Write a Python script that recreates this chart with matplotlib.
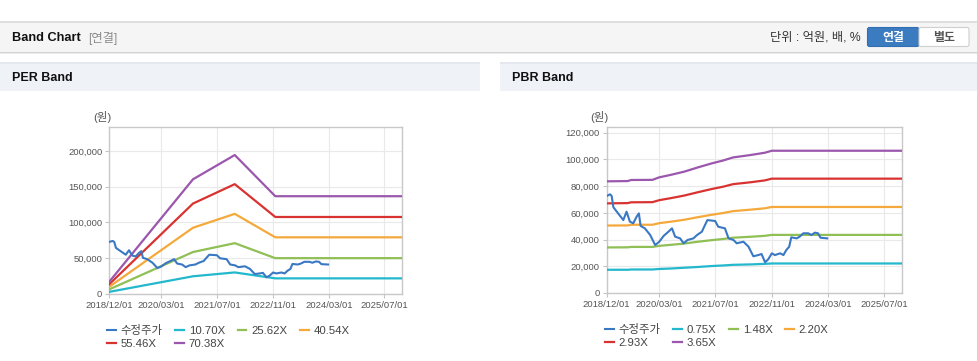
import matplotlib
matplotlib.use("Agg")
import matplotlib.pyplot as plt
import matplotlib.dates as mdates
from matplotlib.patches import Rectangle, FancyBboxPatch
from matplotlib.ticker import FuncFormatter, FixedLocator
import numpy as np

plt.rcParams['font.family'] = ['Liberation Sans', 'Noto Sans CJK KR', 'DejaVu Sans']

# ---------------- data ----------------
price_label = "수정주가"
price_dates = ["2018-12-01", "2018-12-30", "2019-01-13", "2019-01-28", "2019-03-10", "2019-04-24",
               "2019-05-22", "2019-06-20", "2019-07-19", "2019-08-17", "2019-09-06", "2019-09-21",
               "2019-10-28", "2019-12-13", "2020-01-25", "2020-03-01", "2020-04-07", "2020-05-19",
               "2020-06-19", "2020-07-16", "2020-08-28", "2020-09-28", "2020-11-01", "2020-12-22",
               "2021-01-22", "2021-03-05", "2021-04-01", "2021-04-22", "2021-06-28", "2021-07-25",
               "2021-09-21", "2021-10-22", "2021-12-04", "2022-01-01", "2022-02-28", "2022-04-13",
               "2022-05-25", "2022-07-07", "2022-08-04", "2022-09-04", "2022-10-01", "2022-11-01",
               "2022-11-28", "2023-01-13", "2023-02-10", "2023-03-07", "2023-04-01", "2023-04-19",
               "2023-06-04", "2023-07-01", "2023-08-01", "2023-09-13", "2023-10-10", "2023-11-10",
               "2023-12-07", "2023-12-28", "2024-02-24"]
price_values = [72600, 73900, 72600, 64200, 59600, 54600,
                60900, 53400, 52200, 57100, 59600, 50200,
                48400, 43400, 35900, 38400, 42700, 45900,
                48400, 42200, 40900, 37200, 39700, 40900,
                43400, 45900, 50900, 54600, 53900, 49600,
                48400, 40900, 39700, 37200, 38400, 34700,
                27500, 28400, 29200, 23000, 25200, 29700,
                28400, 29700, 28400, 32200, 34700, 41700,
                40900, 42200, 44700, 44700, 43400, 45200,
                44700, 41400, 40900]

per_labels = ["10.70X", "25.62X", "40.54X", "55.46X", "70.38X"]
per_dates = ["2018-12-01", "2020-12-01", "2021-12-01", "2022-11-20", "2025-12-01"]
per_1070 = [2600, 24400, 29800, 21500, 21500]
per_2562 = [6100, 58400, 70800, 49800, 49800]
per_4054 = [9700, 92400, 111900, 79000, 79000]
per_5546 = [13300, 126300, 153500, 107500, 107500]
per_7038 = [16800, 160300, 194300, 136600, 136600]

pbr_labels = ["0.75X", "1.48X", "2.20X", "2.93X", "3.65X"]
pbr_dates = ["2018-12-01", "2019-06-01", "2019-07-01", "2020-01-01", "2020-03-01", "2020-06-01",
             "2020-10-01", "2021-02-01", "2021-06-01", "2021-09-01", "2021-12-01", "2022-05-01",
             "2022-09-01", "2022-11-01", "2025-12-01"]
pbr_075 = [17400, 17400, 17600, 17600, 18000, 18300, 18900, 19500, 20200, 20600, 21100, 21400, 21800, 22100, 22100]
pbr_148 = [34100, 34200, 34500, 34500, 35300, 36000, 37000, 38400, 39600, 40400, 41400, 42100, 42800, 43500, 43500]
pbr_220 = [50500, 50600, 51100, 51100, 52300, 53300, 54800, 56800, 58600, 59800, 61300, 62400, 63400, 64400, 64400]
pbr_293 = [67100, 67300, 67900, 68000, 69500, 70900, 72900, 75500, 77900, 79500, 81500, 82900, 84300, 85600, 85600]
pbr_365 = [83600, 83800, 84600, 84700, 86600, 88300, 90800, 94100, 97100, 99100, 101500, 103300, 105000, 106500, 106500]

x_tick_dates = ["2018-12-01", "2020-03-01", "2021-07-01", "2022-11-01", "2024-03-01", "2025-07-01"]
x_tick_labels = ["2018/12/01", "2020/03/01", "2021/07/01", "2022/11/01", "2024/03/01", "2025/07/01"]
per_yticks = [0, 50000, 100000, 150000, 200000]
pbr_yticks = [0, 20000, 40000, 60000, 80000, 100000, 120000]

# ---------------- styles ----------------
price_color = "#3a78c4"
band_colors = ["#23b8cc", "#8fbf55", "#f5a93b", "#d83330", "#9b57ad"]

W, H = 978, 361
fig = plt.figure(figsize=(W / 100, H / 100), dpi=100)
fig.patch.set_facecolor("white")

bg = fig.add_axes([0, 0, 1, 1])
bg.set_xlim(0, W)
bg.set_ylim(H, 0)
bg.axis("off")

# header bar
bg.add_patch(Rectangle((0, 21.5), W, 30.5, facecolor="#f5f5f5", edgecolor="none"))
bg.add_patch(Rectangle((0, 21), W, 1.6, facecolor="#dedede", edgecolor="none"))
bg.add_patch(Rectangle((0, 51.5), W, 1.2, facecolor="#d2d2d2", edgecolor="none"))
bg.add_patch(Rectangle((0, 52.7), W, 1.5, facecolor="#ececec", edgecolor="none"))
bg.text(12, 38, "Band Chart", fontsize=9.2, fontweight="bold", color="#111111", va="center", ha="left")
bg.text(88.5, 38.5, "[연결]", fontsize=8.8, color="#8a8a8a", va="center", ha="left")
bg.text(861, 38, "단위 : 억원, 배, %", fontsize=8.8, color="#333333", va="center", ha="right")
bg.add_patch(FancyBboxPatch((867.5, 27.5), 51.5, 19, boxstyle="round,pad=0,rounding_size=2",
                            facecolor="#3b7bc0", edgecolor="#336fb0", lw=0.8))
bg.add_patch(FancyBboxPatch((919, 27.5), 50, 19, boxstyle="round,pad=0,rounding_size=2",
                            facecolor="white", edgecolor="#cfcfcf", lw=0.8))
bg.text(893.2, 37.5, "연결", fontsize=8.6, fontweight="bold", color="white", va="center", ha="center")
bg.text(944, 37.5, "별도", fontsize=8.6, fontweight="bold", color="#555555", va="center", ha="center")

# sub headers
for x0, x1, title in [(0, 480, "PER Band"), (500, W, "PBR Band")]:
    bg.add_patch(Rectangle((x0, 62), x1 - x0, 29, facecolor="#eff2f7", edgecolor="none"))
    bg.add_patch(Rectangle((x0, 62), x1 - x0, 1.8, facecolor="#e4e8ee", edgecolor="none"))
    bg.text(x0 + 11.5, 78, title, fontsize=9.0, fontweight="bold", color="#111111", va="center", ha="left")


def to_dates(lst):
    return np.array(lst, dtype="datetime64[D]")


def fmt_thousands(v, pos):
    return f"{int(v):,}"


def make_chart(rect_px, ymax, yticks, bands, labels, unit_xy, legend_x):
    l, t, r, b = rect_px
    ax = fig.add_axes([l / W, (H - b) / H, (r - l) / W, (b - t) / H])
    ax.set_facecolor("white")
    ax.plot(to_dates(price_dates), price_values, color=price_color, lw=1.5, label=price_label, zorder=5)
    for (dates, vals), lab, c in zip(bands, labels, band_colors):
        ax.plot(to_dates(dates), vals, color=c, lw=1.6, label=lab, zorder=4)
    ax.set_xlim(np.datetime64("2018-12-01"), np.datetime64("2025-12-01"))
    ax.set_ylim(0, ymax)
    ax.xaxis.set_major_locator(FixedLocator(mdates.date2num(to_dates(x_tick_dates))))
    ax.set_xticklabels(x_tick_labels)
    ax.set_yticks(yticks)
    ax.yaxis.set_major_formatter(FuncFormatter(fmt_thousands))
    ax.tick_params(axis="both", labelsize=6.8, colors="#555555", length=3, width=0.8, pad=2)
    ax.tick_params(axis="both", color="#c4c4c4")
    ax.grid(True, color="#e9e9e9", lw=0.8)
    ax.set_axisbelow(True)
    for s in ax.spines.values():
        s.set_color("#c8c8c8")
        s.set_linewidth(1.0)
    bg.text(unit_xy[0], unit_xy[1], "(원)", fontsize=8.2, color="#555555", va="center", ha="left")
    handles, labs = ax.get_legend_handles_labels()
    order = [0, 4, 1, 5, 2, 3]  # row-wise layout: 4 items on first row, 2 on second
    leg = ax.legend([handles[i] for i in order], [labs[i] for i in order], ncol=4, loc="upper left",
                    bbox_to_anchor=((legend_x - l) / (r - l), -0.185),
                    frameon=False, fontsize=8.2, handlelength=0.75, handletextpad=0.45,
                    columnspacing=1.1, labelspacing=0.32, borderaxespad=0, borderpad=0)
    for txt in leg.get_texts():
        txt.set_color("#444444")
    return ax


per_bands = [(per_dates, per_1070), (per_dates, per_2562), (per_dates, per_4054),
             (per_dates, per_5546), (per_dates, per_7038)]
pbr_bands = [(pbr_dates, pbr_075), (pbr_dates, pbr_148), (pbr_dates, pbr_220),
             (pbr_dates, pbr_293), (pbr_dates, pbr_365)]

make_chart((109.3, 126.7, 402, 293.7), 234000, per_yticks, per_bands, per_labels, (93, 117), 107)
make_chart((606.7, 126.7, 901.7, 293), 124500, pbr_yticks, pbr_bands, pbr_labels, (590, 117), 605)

fig.savefig("out.png", dpi=100, facecolor="white")
